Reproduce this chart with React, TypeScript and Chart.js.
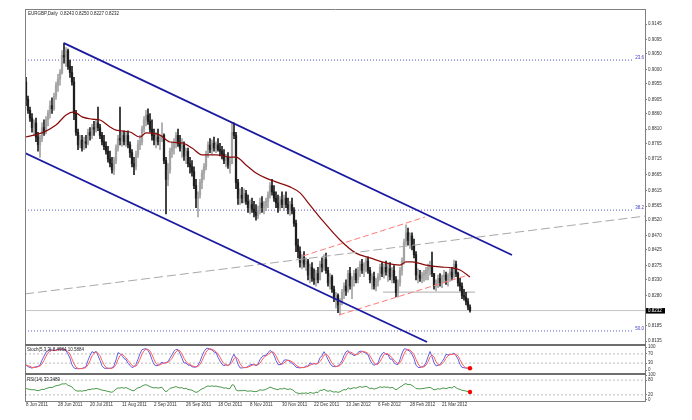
import React, { useEffect, useRef } from 'react';
import { Chart, registerables } from 'chart.js';
Chart.register(...registerables);

const FONT = '"Liberation Sans", Arial, sans-serif';

// EURGBP daily bars, prices in pips (price x 10000); bar 0 = 8 Jun 2011
const highPips = [
  8975, 8915, 8880, 8860, 8840, 8845, 8800, 8790, 8830, 8840,
  8850, 8870, 8900, 8910, 8925, 8960, 8985, 9000, 9060, 9084,
  9070, 9065, 9030, 9010, 8975, 8870, 8810, 8790, 8790, 8785,
  8790, 8810, 8815, 8825, 8835, 8840, 8880, 8825, 8800, 8790,
  8770, 8755, 8740, 8720, 8720, 8760, 8790, 8880, 8800, 8805,
  8800, 8805, 8770, 8745, 8720, 8740, 8775, 8790, 8820, 8850,
  8870, 8875, 8860, 8840, 8810, 8800, 8810, 8790, 8830, 8795,
  8720, 8700, 8750, 8770, 8780, 8800, 8810, 8790, 8780, 8770,
  8750, 8750, 8720, 8710, 8690, 8650, 8610, 8650, 8680, 8700,
  8740, 8770, 8780, 8775, 8785, 8770, 8780, 8765, 8755, 8745,
  8730, 8735, 8720, 8830, 8830, 8800, 8650, 8620, 8625, 8620,
  8615, 8600, 8585, 8590, 8580, 8570, 8565, 8590, 8595, 8580,
  8590, 8610, 8640, 8650, 8630, 8610, 8600, 8595, 8610, 8600,
  8610, 8590, 8580, 8590, 8560, 8520, 8460, 8435, 8410, 8420,
  8400, 8395, 8380, 8385, 8365, 8360, 8370, 8390, 8400, 8410,
  8415, 8370, 8350, 8345, 8310, 8290, 8285, 8270, 8300, 8320,
  8330, 8360, 8370, 8340, 8360, 8365, 8370, 8390, 8395, 8385,
  8400, 8403, 8370, 8350, 8355, 8335, 8350, 8380, 8385, 8380,
  8390, 8380, 8385, 8370, 8375, 8340, 8330, 8370, 8400, 8460,
  8505, 8495, 8480, 8480, 8460, 8420, 8365, 8360, 8355, 8360,
  8370, 8380, 8390, 8418, 8350, 8330, 8345, 8350, 8345, 8360,
  8355, 8350, 8365, 8370, 8393, 8390, 8355, 8335, 8320, 8300,
  8290, 8270, 8250,
];
const lowPips = [
  8885, 8860, 8835, 8800, 8790, 8770, 8740, 8720, 8770, 8790,
  8795, 8820, 8845, 8860, 8870, 8905, 8930, 8950, 8985, 9020,
  9010, 9000, 8975, 8950, 8840, 8790, 8745, 8750, 8740, 8745,
  8750, 8760, 8775, 8780, 8790, 8800, 8805, 8780, 8760, 8745,
  8730, 8705, 8690, 8670, 8665, 8700, 8740, 8760, 8755, 8760,
  8755, 8750, 8720, 8690, 8665, 8680, 8720, 8745, 8760, 8800,
  8820, 8825, 8800, 8775, 8760, 8750, 8760, 8745, 8770, 8700,
  8540, 8630, 8670, 8720, 8730, 8750, 8755, 8740, 8720, 8710,
  8700, 8690, 8670, 8660, 8620, 8560, 8530, 8590, 8620, 8650,
  8680, 8720, 8735, 8730, 8740, 8735, 8740, 8725, 8715, 8700,
  8690, 8685, 8670, 8700, 8780, 8620, 8570, 8570, 8575, 8575,
  8570, 8545, 8540, 8545, 8530, 8520, 8525, 8540, 8545, 8540,
  8550, 8560, 8590, 8600, 8580, 8560, 8545, 8550, 8560, 8550,
  8560, 8540, 8535, 8540, 8500, 8420, 8400, 8370, 8365, 8370,
  8360, 8330, 8320, 8325, 8315, 8310, 8320, 8330, 8355, 8360,
  8350, 8310, 8300, 8290, 8260, 8240, 8225, 8218, 8250, 8270,
  8280, 8290, 8300, 8270, 8310, 8320, 8320, 8340, 8350, 8340,
  8355, 8350, 8320, 8300, 8300, 8295, 8310, 8330, 8340, 8335,
  8345, 8325, 8330, 8320, 8320, 8276, 8275, 8310, 8345, 8380,
  8440, 8440, 8430, 8425, 8400, 8330, 8320, 8325, 8320, 8325,
  8330, 8330, 8345, 8340, 8300, 8295, 8305, 8310, 8305, 8320,
  8315, 8310, 8325, 8330, 8335, 8340, 8310, 8295, 8270, 8265,
  8250, 8235, 8227,
];
const closePips = [
  8905, 8870, 8845, 8815, 8830, 8785, 8760, 8780, 8815, 8800,
  8840, 8860, 8885, 8875, 8915, 8950, 8970, 8990, 9045, 9040,
  9060, 9010, 8990, 8960, 8860, 8800, 8760, 8775, 8750, 8770,
  8765, 8800, 8790, 8815, 8810, 8830, 8815, 8790, 8770, 8755,
  8740, 8715, 8700, 8680, 8710, 8750, 8780, 8775, 8790, 8770,
  8790, 8760, 8735, 8700, 8690, 8730, 8760, 8770, 8810, 8840,
  8855, 8835, 8810, 8790, 8775, 8785, 8770, 8780, 8790, 8710,
  8650, 8680, 8740, 8750, 8770, 8790, 8765, 8750, 8760, 8725,
  8740, 8700, 8690, 8675, 8630, 8590, 8600, 8640, 8670, 8690,
  8730, 8760, 8745, 8765, 8750, 8760, 8745, 8740, 8730, 8710,
  8720, 8695, 8700, 8800, 8790, 8640, 8590, 8600, 8590, 8605,
  8580, 8560, 8570, 8555, 8545, 8535, 8550, 8575, 8560, 8565,
  8580, 8600, 8630, 8610, 8590, 8575, 8560, 8585, 8570, 8590,
  8570, 8555, 8570, 8550, 8510, 8440, 8420, 8385, 8400, 8380,
  8390, 8345, 8370, 8335, 8330, 8350, 8330, 8380, 8370, 8395,
  8360, 8320, 8340, 8300, 8270, 8280, 8250, 8260, 8290, 8310,
  8295, 8350, 8310, 8330, 8350, 8330, 8360, 8380, 8360, 8375,
  8390, 8360, 8330, 8340, 8310, 8325, 8340, 8370, 8350, 8370,
  8355, 8365, 8340, 8360, 8330, 8290, 8320, 8360, 8390, 8450,
  8480, 8455, 8470, 8440, 8410, 8345, 8345, 8335, 8345, 8350,
  8360, 8370, 8375, 8350, 8310, 8320, 8335, 8320, 8340, 8345,
  8330, 8345, 8355, 8340, 8380, 8350, 8320, 8310, 8280, 8275,
  8260, 8243, 8232,
];
const firstOpenPips = 8960;

// Moving average (dark red), read at selected bars
const maBars = [0, 4, 8, 15, 20, 24, 28, 33, 37, 42, 45, 52, 57, 60, 65, 67, 72, 78, 83, 88, 95, 102, 105, 110, 115, 120, 125, 132, 137, 142, 148, 157, 165, 172, 180, 187, 190, 193, 200, 207, 213, 217, 222];
const maPips = [8785, 8791, 8798, 8823, 8855, 8865, 8849, 8842, 8839, 8817, 8807, 8801, 8785, 8798, 8795, 8791, 8769, 8766, 8750, 8728, 8728, 8721, 8721, 8696, 8670, 8654, 8642, 8626, 8607, 8568, 8521, 8457, 8415, 8400, 8384, 8377, 8387, 8387, 8377, 8371, 8368, 8361, 8339];

// x-axis date labels and the bars they sit on
const dateLabels = ['8 Jun 2011', '28 Jun 2011', '20 Jul 2011', '11 Aug 2011', '2 Sep 2011', '26 Sep 2011', '18 Oct 2011', '8 Nov 2011', '30 Nov 2011', '22 Dec 2011', '13 Jan 2012', '6 Feb 2012', '28 Feb 2012', '21 Mar 2012'];
const dateLabelBars = [0, 16, 32, 48, 64, 80, 96, 112, 128, 144, 160, 176, 192, 208];

// right price axis tick labels
const priceTicks = [0.9145, 0.9095, 0.9050, 0.9000, 0.8955, 0.8905, 0.8860, 0.8810, 0.8765, 0.8715, 0.8665, 0.8615, 0.8565, 0.8520, 0.8470, 0.8425, 0.8375, 0.8330, 0.8280, 0.8185, 0.8135];

// drawn objects (bar index, price)
const channelUpper = [{ x: 19, y: 0.9084 }, { x: 243, y: 0.8409 }];
const channelLower = [{ x: -0.5, y: 0.8734 }, { x: 200.5, y: 0.8132 }];
const grayTrend = [{ x: -0.5, y: 0.8285 }, { x: 309.5, y: 0.8533 }];
const redUpper = [{ x: 138.5, y: 0.8406 }, { x: 199.5, y: 0.8530 }];
const redLower = [{ x: 156.5, y: 0.8218 }, { x: 221, y: 0.8345 }];
const supportLine = [{ x: 178.5, y: 0.8291 }, { x: 224.5, y: 0.8291 }];
const fibLevels = [0.9030, 0.8552, 0.8167];
const fibNames = ['23.6', '38.2', '50.0'];
const stochLevels = [70, 30];
const stochTicks = [100, 70, 30, 0];
const rsiLevels = [80, 20];
const rsiTicks = [100, 80, 20, 0];

const X_MIN = -0.5;
const X_MAX = 309.5;

const highs = highPips.map((v) => v / 10000);
const lows = lowPips.map((v) => v / 10000);
const closes = closePips.map((v) => v / 10000);
const opens = closes.map((_, i) => (i === 0 ? firstOpenPips / 10000 : closes[i - 1]));
const n = closes.length;
const lastClose = closes[n - 1];

function calcStoch(kP: number, slow: number, dP: number) {
  const num: number[] = [], den: number[] = [], K: number[] = [], D: number[] = [];
  for (let i = 0; i < n; i++) {
    let lo = Infinity, hi = -Infinity;
    for (let j = Math.max(0, i - kP + 1); j <= i; j++) { lo = Math.min(lo, lows[j]); hi = Math.max(hi, highs[j]); }
    num.push(closes[i] - lo); den.push(hi - lo);
    let sn = 0, sd = 0;
    for (let j = Math.max(0, i - slow + 1); j <= i; j++) { sn += num[j]; sd += den[j]; }
    K.push(sd > 0 ? (100 * sn) / sd : 50);
    let sk = 0, c = 0;
    for (let j = Math.max(0, i - dP + 1); j <= i; j++) { sk += K[j]; c++; }
    D.push(sk / c);
  }
  return { K, D };
}
function calcRsi(period: number) {
  let ag = 0.0025, al = 0.0025;
  const out: number[] = [];
  for (let i = 0; i < n; i++) {
    const ch = closes[i] - opens[i];
    const g = Math.max(ch, 0), l = Math.max(-ch, 0);
    ag = (ag * (period - 1) + g) / period;
    al = (al * (period - 1) + l) / period;
    out.push(al === 0 ? 100 : 100 - 100 / (1 + ag / al));
  }
  return out;
}

const decorPlugin = {
  id: 'decor',
  afterDraw(chart: any) {
    const { ctx } = chart;
    const { left: L, right: R, top: T, bottom: B } = chart.chartArea;
    const sM = chart.scales.y, sS = chart.scales.yS, sR = chart.scales.yR;
    ctx.save();
    ctx.strokeStyle = '#808080';
    ctx.lineWidth = 1;
    ctx.beginPath();
    ctx.moveTo(L + 0.5, T); ctx.lineTo(L + 0.5, B + 1);
    ctx.moveTo(R + 0.5, T); ctx.lineTo(R + 0.5, B + 1);
    ctx.moveTo(L, T + 0.5); ctx.lineTo(R + 1, T + 0.5);
    ctx.moveTo(L, B + 0.5); ctx.lineTo(R + 1, B + 0.5);
    ctx.stroke();
    ctx.strokeStyle = '#6e6e6e';
    ctx.lineWidth = 2;
    ctx.beginPath();
    ctx.moveTo(L, sS.top + 1); ctx.lineTo(R + 1, sS.top + 1);
    ctx.moveTo(L, sR.top); ctx.lineTo(R + 1, sR.top);
    ctx.stroke();

    ctx.font = `4.5px ${FONT}`;
    ctx.textBaseline = 'middle';
    ctx.textAlign = 'left';
    ctx.fillStyle = '#222';
    ctx.fillText('EURGBP,Daily  0.8243 0.8250 0.8227 0.8232', 28, 13.5);
    ctx.fillText('Stoch(5,3,3) 8.4984 10.5884', 27, sS.top + 5.5);
    ctx.fillText('RSI(14) 33.3489', 27, sR.top + 5.5);

    ctx.fillStyle = '#4040c0';
    ctx.textAlign = 'right';
    fibLevels.forEach((lv, k) => ctx.fillText(fibNames[k], R - 1, sM.getPixelForValue(lv) - 2));

    const py = sM.getPixelForValue(lastClose);
    ctx.fillStyle = '#000';
    ctx.fillRect(R + 1, py - 2.5, 19, 5.5);
    ctx.fillStyle = '#fff';
    ctx.textAlign = 'left';
    ctx.fillText(lastClose.toFixed(4), R + 3, py + 0.3);
    ctx.restore();
  },
};

const UP = '#a4a4a4';
const DOWN = '#1e1e1e';

export default function App() {
  const ref = useRef<HTMLCanvasElement>(null);
  useEffect(() => {
    const { K, D } = calcStoch(5, 3, 3);
    const rsi = calcRsi(14);
    const colors = closes.map((c, i) => (c >= opens[i] ? UP : DOWN));
    const hline = (v: number, x0 = X_MIN, x1 = X_MAX) => [{ x: x0, y: v }, { x: x1, y: v }];
    const lineDs = (data: any[], color: string, width: number, axis: string, order: number, dash: number[] = []) => ({
      type: 'line', data, borderColor: color, borderWidth: width, borderDash: dash, pointRadius: 0,
      tension: 0, yAxisID: axis, order, fill: false,
    });

    const datasets: any[] = [
      ...fibLevels.map((lv) => lineDs(hline(lv, X_MIN, 303), '#5a5ad0', 1, 'y', 20, [1, 2])),
      lineDs(hline(lastClose), '#c4c4c4', 1, 'y', 19),
      lineDs(supportLine, '#bdbdbd', 1.2, 'y', 19),
      {
        type: 'bar', data: closes.map((_, i) => ({ x: i, y: [lows[i], highs[i]] })),
        backgroundColor: colors, barThickness: 1, grouped: false, yAxisID: 'y', order: 6, borderWidth: 0,
      },
      {
        type: 'bar', data: closes.map((c, i) => ({ x: i, y: [opens[i], c] })),
        backgroundColor: colors, barThickness: 1.6, grouped: false, yAxisID: 'y', order: 5, borderWidth: 0,
      },
      { ...lineDs(maBars.map((b, k) => ({ x: b, y: maPips[k] / 10000 })), '#8b0a0a', 1.2, 'y', 4), cubicInterpolationMode: 'monotone' },
      lineDs(grayTrend, '#a8a8a8', 1, 'y', 3, [9, 4]),
      lineDs(redUpper, '#ff7a7a', 1, 'y', 3, [6, 3]),
      lineDs(redLower, '#ff7a7a', 1, 'y', 3, [6, 3]),
      lineDs(channelUpper, '#1a1aa0', 1.8, 'y', 2),
      lineDs(channelLower, '#1a1aa0', 1.8, 'y', 2),
      ...stochLevels.map((lv) => lineDs(hline(lv), '#bdbdbd', 1, 'yS', 20, [2, 2])),
      lineDs(K.map((v, i) => ({ x: i, y: v })), '#6060e6', 1, 'yS', 3),
      lineDs(D.map((v, i) => ({ x: i, y: v })), '#ff6060', 1, 'yS', 2),
      { type: 'line', data: [{ x: n - 1, y: K[n - 1] }], pointRadius: 2.2, pointBackgroundColor: '#ff0000', pointBorderWidth: 0, showLine: false, yAxisID: 'yS', order: 1 },
      ...rsiLevels.map((lv) => lineDs(hline(lv), '#bdbdbd', 1, 'yR', 20, [2, 2])),
      lineDs(rsi.map((v, i) => ({ x: i, y: v })), '#4f9a4f', 1, 'yR', 2),
      { type: 'line', data: [{ x: n - 1, y: rsi[n - 1] }], pointRadius: 2.2, pointBackgroundColor: '#ff0000', pointBorderWidth: 0, showLine: false, yAxisID: 'yR', order: 1 },
    ];

    const tickFont = { size: 4.5, family: FONT };
    const rightAxis = (extra: any) => ({
      type: 'linear', position: 'right', stack: 'panels',
      grid: { drawOnChartArea: false, drawTicks: true, tickLength: 2, color: '#808080' },
      border: { display: false },
      ticks: { autoSkip: false, font: tickFont, color: '#333', padding: 1 },
      afterFit: (s: any) => { s.width = 47; },
      ...extra,
    });

    const chart = new Chart(ref.current as HTMLCanvasElement, {
      type: 'line',
      data: { datasets },
      options: {
        responsive: false,
        animation: false,
        devicePixelRatio: 1,
        events: [],
        layout: { padding: { left: 25, top: 9, right: 0, bottom: 0 } },
        plugins: { legend: { display: false }, tooltip: { enabled: false } },
        scales: {
          x: {
            type: 'linear', min: X_MIN, max: X_MAX, offset: false,
            grid: { drawOnChartArea: false, drawTicks: false, offset: false },
            border: { display: false },
            afterBuildTicks: (s: any) => { s.ticks = dateLabelBars.map((v) => ({ value: v })); },
            ticks: {
              autoSkip: false, maxRotation: 0, minRotation: 0, align: 'start', padding: 1,
              font: tickFont, color: '#333',
              callback: (v: any) => dateLabels[dateLabelBars.indexOf(Number(v))] ?? '',
            },
            afterFit: (s: any) => { s.height = 19; },
          },
          y: rightAxis({
            stackWeight: 335, min: 0.81255, max: 0.91928,
            afterBuildTicks: (s: any) => { s.ticks = priceTicks.map((v) => ({ value: v })); },
            ticks: { autoSkip: false, font: tickFont, color: '#333', padding: 1, callback: (v: any) => Number(v).toFixed(4) },
          }),
          yS: rightAxis({
            stackWeight: 30, min: -17, max: 113,
            afterBuildTicks: (s: any) => { s.ticks = stochTicks.map((v) => ({ value: v })); },
          }),
          yR: rightAxis({
            stackWeight: 27, min: -5, max: 105,
            afterBuildTicks: (s: any) => { s.ticks = rsiTicks.map((v) => ({ value: v })); },
          }),
        },
      } as any,
      plugins: [decorPlugin],
    } as any);
    return () => chart.destroy();
  }, []);

  return (
    <div style={{ position: 'fixed', left: 0, top: 0, width: 692, height: 420, background: '#fff' }}>
      <canvas ref={ref} width={692} height={420} style={{ display: 'block' }} />
    </div>
  );
}
